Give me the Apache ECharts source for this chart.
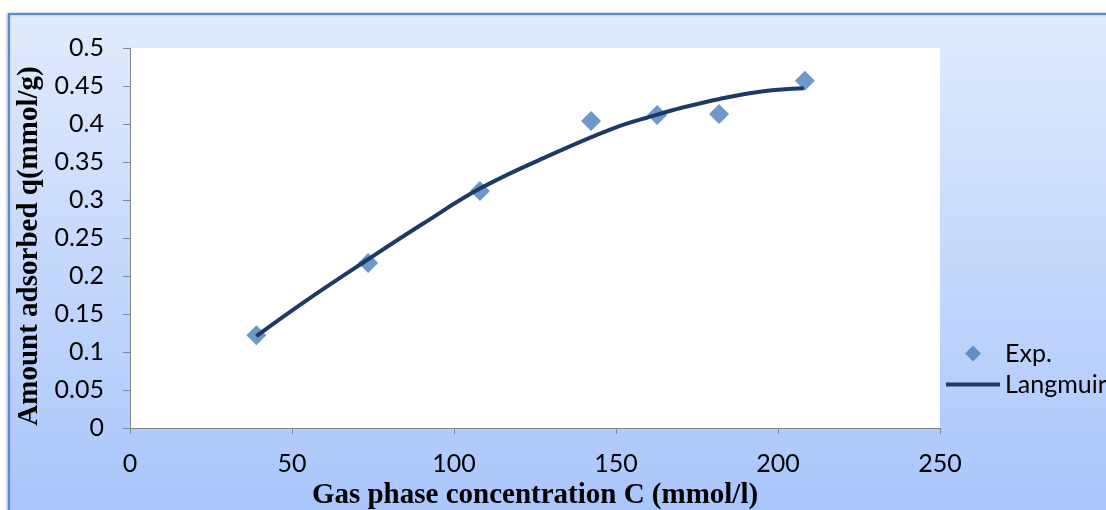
<!DOCTYPE html>
<html>
<head>
<meta charset="utf-8">
<script src="https://cdn.jsdelivr.net/npm/echarts@6/dist/echarts.min.js"></script>
<style>
  html, body { margin: 0; padding: 0; background: #ffffff; }
  #chart { width: 1106px; height: 510px; }
</style>
</head>
<body>
<div id="chart"></div>
<script>
// Experimental adsorption points: gas phase concentration C (mmol/l) and amount adsorbed q (mmol/g)
const expC = [39, 73.5, 108, 142.3, 162.7, 181.8, 208.3];
const expQ = [0.122, 0.217, 0.312, 0.404, 0.412, 0.413, 0.457];

// Langmuir model curve, sampled along the fitted line
const fitC = [39, 54.5, 73.5, 90.5, 108, 128.6, 149, 162.5, 170, 182, 195.5, 208];
const fitQ = [0.121, 0.168, 0.222, 0.269, 0.315, 0.357, 0.394, 0.412, 0.421, 0.433, 0.443, 0.447];

// Axis ranges and tick steps
const xTicks = { min: 0, max: 250, step: 50 };
const yTicks = { min: 0, max: 0.5, step: 0.05 };

const seriesNames = ['Exp.', 'Langmuir'];
const axisTitles = { x: 'Gas phase concentration C (mmol/l)', y: 'Amount adsorbed q(mmol/g)' };

const expData = expC.map((c, i) => [c, expQ[i]]);
const fitData = fitC.map((c, i) => [c, fitQ[i]]);

const tickFont = { fontFamily: 'Lato', fontSize: 25, color: '#000000' };
const titleFont = { fontFamily: 'Liberation Serif', fontWeight: 'bold', fontSize: 29, color: '#000000' };
const axisGray = '#868686';
const expColor = '#4a7ebb';
const fitColor = '#1c3a63';

// Legend icons drawn inside a 54x16 box so the diamond keeps its shape
const diamondIcon = 'path://M0,0 M27,0 L35,8 L27,16 L19,8 Z M54,16';
const lineIcon = 'path://M0,0 M0,6 L54,6 L54,10 L0,10 Z M54,16';

const chart = echarts.init(document.getElementById('chart'), null, { renderer: 'canvas' });

chart.setOption({
  animation: false,
  backgroundColor: '#ffffff',
  graphic: [{
    type: 'rect',
    z: -10,
    silent: true,
    shape: { x: 9, y: 14, width: 1120, height: 520 },
    style: {
      fill: new echarts.graphic.LinearGradient(0, 0, 0, 1, [
        { offset: 0, color: '#e1ebfd' },
        { offset: 1, color: '#a6c4fb' }
      ]),
      stroke: '#5b8bd2',
      lineWidth: 2,
      shadowColor: 'rgba(0,0,0,0.25)',
      shadowBlur: 3,
      shadowOffsetX: -1
    }
  }],
  grid: {
    left: 130, top: 48, right: 166, bottom: 82,
    containLabel: false,
    outerBoundsMode: 'none',
    show: true, backgroundColor: '#ffffff', borderWidth: 0
  },
  legend: {
    orient: 'vertical',
    left: 946,
    top: 341,
    padding: 0,
    itemWidth: 54,
    itemHeight: 16,
    itemGap: 6,
    textStyle: Object.assign({}, tickFont, { padding: [0, 0, 0, 0] }),
    data: [
      { name: seriesNames[0], icon: diamondIcon, itemStyle: { color: expColor } },
      { name: seriesNames[1], icon: lineIcon, itemStyle: { color: fitColor } }
    ]
  },
  xAxis: {
    type: 'value',
    min: xTicks.min, max: xTicks.max, interval: xTicks.step,
    name: axisTitles.x,
    nameLocation: 'middle',
    nameGap: 53,
    nameTextStyle: titleFont,
    axisLine: { show: true, onZero: false, lineStyle: { color: axisGray, width: 1 } },
    axisTick: { show: true, length: 6, lineStyle: { color: axisGray } },
    axisLabel: Object.assign({ margin: 23 }, tickFont),
    splitLine: { show: false }
  },
  yAxis: {
    type: 'value',
    min: yTicks.min, max: yTicks.max, interval: yTicks.step,
    name: axisTitles.y,
    nameLocation: 'middle',
    nameGap: 80,
    nameRotate: 90,
    nameTextStyle: Object.assign({ padding: [0, 16, 0, 0] }, titleFont),
    axisLine: { show: true, onZero: false, lineStyle: { color: axisGray, width: 1 } },
    axisTick: { show: true, length: 7, lineStyle: { color: axisGray } },
    axisLabel: Object.assign({ margin: 26 }, tickFont),
    splitLine: { show: false }
  },
  series: [
    {
      name: seriesNames[0],
      type: 'scatter',
      symbol: 'diamond',
      symbolSize: 20,
      itemStyle: { color: expColor },
      data: expData,
      z: 2
    },
    {
      name: seriesNames[1],
      type: 'line',
      smooth: 0.4,
      showSymbol: false,
      symbol: 'none',
      lineStyle: { color: fitColor, width: 4 },
      itemStyle: { color: fitColor },
      data: fitData,
      z: 3
    }
  ]
});
</script>
</body>
</html>
